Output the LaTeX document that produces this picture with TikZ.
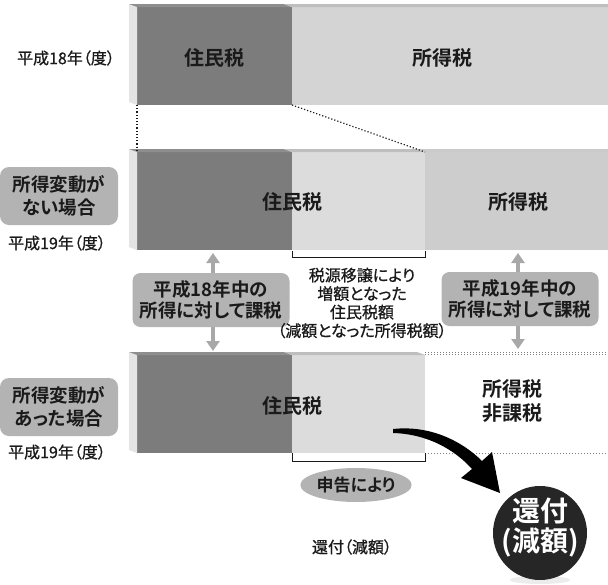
\documentclass[tikz,border=0pt]{standalone}
\usepackage{fontspec}
\setmainfont{Noto Sans CJK JP}[RawFeature={+palt},BoldFont={Noto Sans CJK JP Bold}]
\newfontfamily\medjp{Noto Sans CJK JP}[RawFeature={+palt},FakeBold=0.8]
\usetikzlibrary{arrows.meta,shapes.geometric}
\definecolor{darkseg}{HTML}{7C7C7C}
\definecolor{lightseg}{HTML}{DCDCDC}
\definecolor{taxA}{HTML}{D4D4D4}
\definecolor{taxB}{HTML}{CDCDCD}
\definecolor{sidegray}{HTML}{E4E4E4}
\definecolor{topdark}{HTML}{8E8E8E}
\definecolor{toplight}{HTML}{BEBEBE}
\definecolor{boxgray}{HTML}{B3B3B3}
\definecolor{arrowgray}{HTML}{A8A8A8}
\definecolor{txt}{HTML}{1A1A1A}
\definecolor{ballc}{HTML}{262626}
\begin{document}
\begin{tikzpicture}[x=1pt,y=-1pt,
  seg/.style={inner sep=0,outer sep=0,anchor=north west,minimum height=98},
  bartext/.style={text=txt,font=\fontsize{20}{24}\selectfont\bfseries,inner sep=0,align=center},
  yeartext/.style={text=txt,font=\fontsize{16}{19}\selectfont\medjp,inner sep=0},
  labelbox/.style={rounded corners=9,fill=boxgray,minimum width=118,minimum height=58,inner sep=0,align=center,text=txt,font=\fontsize{18.5}{22.5}\selectfont\bfseries},
  taxbox/.style={rounded corners=8,fill=boxgray,minimum width=157,minimum height=54,inner sep=0,align=center,text=txt,font=\fontsize{18.5}{21}\selectfont\bfseries},
  dotline/.style={dotted,line width=1.2pt,txt},
  graydots/.style={dotted,line width=1pt,gray},
  bracketline/.style={line width=0.8pt,txt},
  dblarrow/.style={line width=4pt,arrowgray,{Triangle[width=13pt,length=10pt]}-{Triangle[width=13pt,length=10pt]}}
]
\useasboundingbox (0,0) rectangle (608,584);
\fill[white] (0,0) rectangle (608,584);

% ---------- bar 1 (H18) ----------
\node[seg,fill=darkseg,minimum width=155] (a1) at (137,7) {};
\node[seg,fill=taxA,minimum width=316] (a2) at (292,7) {};
\fill[sidegray] (a1.north west) -- ++(-8,-3) -- ([shift={(-8,-3)}]a1.south west) -- (a1.south west) -- cycle;
\fill[topdark] (a1.north west) -- ++(-8,-3) -- ([shift={(-8,-3)}]a1.north east) -- (a1.north east) -- cycle;
\fill[toplight] (a2.north west) -- ++(-8,-3) -- ([shift={(0,-3)}]a2.north east) -- (a2.north east) -- cycle;
\node[bartext] (a1t) at (214,58) {住民税};
\node[bartext] (a2t) at (442,58) {所得税};
\node[yeartext] (y18) at (66,58) {平成18年（度）};

% ---------- bar 2 (no change) ----------
\node[seg,fill=darkseg,minimum width=155] (b1) at (137,152) {};
\node[seg,fill=lightseg,minimum width=133] (b2) at (292,152) {};
\node[seg,fill=taxB,minimum width=183] (b3) at (425,152) {};
\fill[sidegray] (b1.north west) -- ++(-8,-3) -- ([shift={(-8,-3)}]b1.south west) -- (b1.south west) -- cycle;
\fill[topdark] (b1.north west) -- ++(-8,-3) -- ([shift={(-8,-3)}]b1.north east) -- (b1.north east) -- cycle;
\fill[toplight] (b2.north west) -- ++(-8,-3) -- ([shift={(-8,-3)}]b2.north east) -- (b2.north east) -- cycle;
\fill[toplight!80!white] (b3.north west) -- ++(-8,-3) -- ([shift={(0,-3)}]b3.north east) -- (b3.north east) -- cycle;
\node[bartext] (b2t) at (292,202) {住民税};
\node[bartext] (b3t) at (518,202) {所得税};
\node[labelbox] (L1) at (59,196) {所得変動が\\ない場合};
\node[yeartext] (y19a) at (57,243) {平成19年（度）};

% dotted projection lines
\draw[dotline] (a1.south west) -- (b1.north west);
\draw[dotline] (a1.south east) -- (b2.north east);

% bracket 1
\draw[bracketline] ([yshift=-1]b2.south west) -- ([yshift=-7]b2.south west) -- ([yshift=-7]b2.south east) -- ([yshift=-1]b2.south east);

% ---------- bar 3 (change) ----------
\node[seg,fill=darkseg,minimum width=155] (c1) at (137,355) {};
\node[seg,fill=lightseg,minimum width=133] (c2) at (292,355) {};
\node[seg,minimum width=183] (c3) at (425,355) {};
\fill[sidegray] (c1.north west) -- ++(-8,-3) -- ([shift={(-8,-3)}]c1.south west) -- (c1.south west) -- cycle;
\fill[topdark] (c1.north west) -- ++(-8,-3) -- ([shift={(-8,-3)}]c1.north east) -- (c1.north east) -- cycle;
\fill[toplight] (c2.north west) -- ++(-8,-3) -- ([shift={(-8,-3)}]c2.north east) -- (c2.north east) -- cycle;
\draw[graydots] ([yshift=1]c3.north west) -- ([yshift=1]c3.north east);
\draw[graydots] ([yshift=3]c3.north west) -- ([yshift=3]c3.north east);
\draw[graydots] (c3.south west) -- (c3.south east);
\node[bartext] (c2t) at (292,406) {住民税};
\node[bartext] (c3t) at (512,401) {所得税\\非課税};
\node[labelbox] (L2) at (59,407) {所得変動が\\あった場合};
\node[yeartext] (y19b) at (57,452) {平成19年（度）};

% bracket 2
\draw[bracketline] (c2.south west) -- ([yshift=-8]c2.south west) -- ([yshift=-8]c2.south east) -- (c2.south east);

% ---------- double arrows and boxes ----------
\coordinate (p1t) at (213,253);
\coordinate (p1b) at (213,351);
\coordinate (p2t) at (518,253);
\coordinate (p2b) at (518,349);
\draw[dblarrow] (p1b) -- (p1t);
\draw[dblarrow] (p2b) -- (p2t);
\node[taxbox] (T1) at (211,300) {平成18年中の\\所得に対して課税};
\node[taxbox] (T2) at (520,299) {平成19年中の\\所得に対して課税};

\node[text=txt,align=center,inner sep=0,font=\fontsize{16}{18.5}\selectfont\medjp] (mid) at (362,303)
  {税源移譲により\\増額となった\\住民税額\\（減額となった所得税額）};

% ---------- bottom ----------
\node[ellipse,fill=boxgray,minimum width=105,minimum height=34,inner sep=0,text=txt,font=\fontsize{17}{20}\selectfont\bfseries] (shin) at (356,485) {申告により};
\node[text=txt,inner sep=0,font=\fontsize{16}{19}\selectfont\medjp] (kanp) at (352,547) {還付（減額）};

% ball
\fill[gray!15] (540,580) ellipse [x radius=30,y radius=4];
\node[circle,fill=ballc,minimum size=94,inner sep=0] (ball) at (540,533) {};
\node[text=white,align=center,inner sep=0,font=\fontsize{28}{30}\selectfont\bfseries] (ballt) at (540,528) {還付\\(減額)};

% curved black arrow
\fill[black] (393,429) .. controls (430,425) and (462,441) .. (482,461)
  -- (492,452) -- (500,493) -- (461,478) -- (472,469)
  .. controls (455,450) and (428,434) .. (393,433) -- cycle;

\end{tikzpicture}
\end{document}
